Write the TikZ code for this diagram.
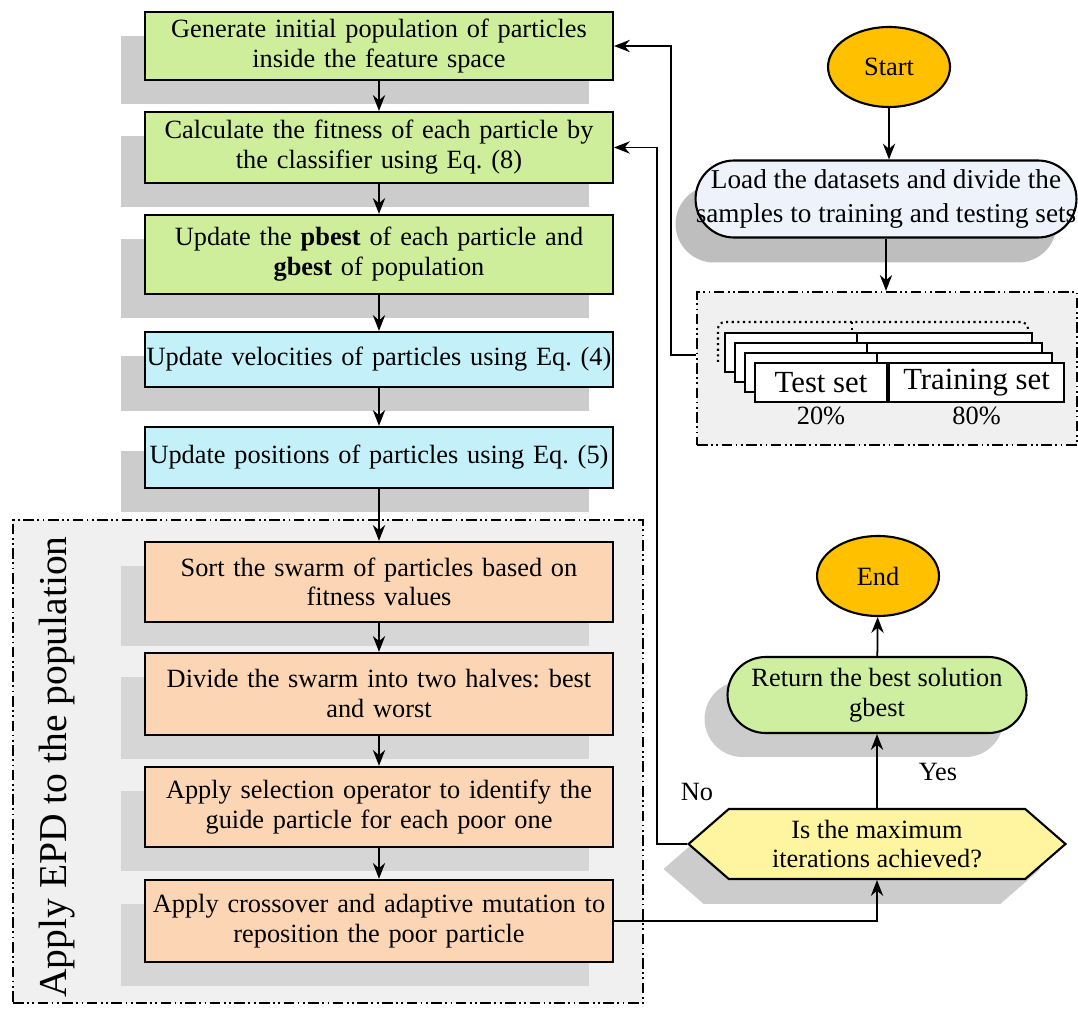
\documentclass[tikz,border=0pt]{standalone}
\usepackage{fontspec}
\setmainfont{Liberation Serif}
\usetikzlibrary{positioning, shapes, shadows, arrows.meta}

\definecolor{stepgreen}{RGB}{206,238,156}
\definecolor{stepblue}{RGB}{196,240,250}
\definecolor{steporange}{RGB}{252,214,180}
\definecolor{termyellow}{RGB}{255,192,0}
\definecolor{loadblue}{RGB}{238,242,250}
\definecolor{retgreen}{RGB}{206,238,160}
\definecolor{decyellow}{RGB}{255,245,160}
\definecolor{groupgray}{RGB}{240,240,240}
\definecolor{shadegray}{RGB}{204,204,204}
\definecolor{shadelight}{RGB}{214,214,214}
\definecolor{shadedark}{RGB}{190,190,190}

\newcommand{\boxfont}{\fontsize{15}{17}\selectfont\frenchspacing}

\begin{document}
\begin{tikzpicture}[x=0.02cm, y=-0.02cm, >={Stealth[length=9pt, width=7pt]},
	stepbox/.style={draw, line width=1.2pt, minimum width=9.36cm, text width=9.32cm,
		align=center, inner sep=0.5pt, font=\boxfont,
		general shadow={fill=shadegray, shadow xshift=-0.48cm, shadow yshift=-0.48cm}},
	epdbox/.style={stepbox, fill=steporange,
		general shadow={fill=shadelight, shadow xshift=-0.48cm, shadow yshift=-0.48cm}},
	term/.style={ellipse, draw, line width=1.2pt, fill=termyellow, minimum width=2.44cm,
		minimum height=1.6cm, font=\boxfont},
	capsule/.style={rectangle, draw, line width=1.2pt, align=center, inner sep=0pt, font=\boxfont},
	decision/.style={signal, signal to=west and east, signal pointer angle=82, draw,
		line width=1.2pt, fill=decyellow, minimum width=7.54cm, minimum height=1.4cm,
		align=center, inner sep=0pt, font=\boxfont,
		general shadow={fill=shadegray, shadow xshift=-0.5cm, shadow yshift=-0.5cm}},
	groupbox/.style={draw, fill=groupgray, line width=1.3pt,
		dash pattern=on 6pt off 2pt on 1pt off 2pt on 1pt off 2pt},
	setbox/.style={draw, fill=white, line width=1.2pt, minimum height=0.78cm, inner sep=0pt,
		font=\fontsize{17.5}{19}\selectfont},
	lbl/.style={font=\boxfont, inner sep=1pt},
	link/.style={line width=1pt}]

	\useasboundingbox (0,0) rectangle (1078,1013);

	%Grupos:
	\node[groupbox, minimum width=12.6cm, minimum height=9.66cm] (epd) at (328,761.5) {};
	\node[rotate=90, font=\fontsize{22.5}{24}\selectfont] (epdlabel) at (57,767) {Apply EPD to the population};
	\node[groupbox, minimum width=7.6cm, minimum height=3.06cm] (data) at (887,368.5) {};

	%PSO:
	\node[stepbox, fill=stepgreen, minimum height=1.36cm] (gen) at (379,46)
		{Generate initial population of particles\\inside the feature space};
	\node[stepbox, fill=stepgreen, minimum height=1.42cm, below of=gen, node distance=2.03cm] (fit)
		{Calculate the fitness of each particle by\\the classifier using Eq. (8)};
	\node[stepbox, fill=stepgreen, minimum height=1.58cm, below of=fit, node distance=2.14cm] (best)
		{Update the \textbf{pbest} of each particle and\\\textbf{gbest} of population};
	\node[stepbox, fill=stepblue, minimum height=1.10cm, below of=best, node distance=2.10cm] (vel)
		{Update velocities of particles using Eq. (4)};
	\node[stepbox, fill=stepblue, minimum height=1.22cm, below of=vel, node distance=1.96cm] (pos)
		{Update positions of particles using Eq. (5)};

	%EPD:
	\node[epdbox, minimum height=1.60cm, below of=pos, node distance=2.49cm] (sort)
		{Sort the swarm of particles based on\\fitness values};
	\node[epdbox, minimum height=1.64cm, below of=sort, node distance=2.24cm] (halves)
		{Divide the swarm into two halves: best\\and worst};
	\node[epdbox, minimum height=1.60cm, below of=halves, node distance=2.26cm] (select)
		{Apply selection operator to identify the\\guide particle for each poor one};
	\node[epdbox, minimum height=1.64cm, below of=select, node distance=2.28cm] (cross)
		{Apply crossover and adaptive mutation to\\reposition the poor particle};

	%Dados:
	\node[term] (start) at (889,67) {Start};
	\node[capsule, fill=loadblue, minimum width=7.62cm, minimum height=1.54cm, rounded corners=0.77cm,
		font=\fontsize{15.5}{19.5}\selectfont,
		general shadow={fill=shadedark, shadow xshift=-0.4cm, shadow yshift=-0.5cm}] (load) at (886,199)
		{Load the datasets and divide the\\samples to training and testing sets};

	\draw[dotted, line width=1.2pt, rounded corners=4pt] (718,362) |- (1028,322) -- (1028,334);
	\draw[dotted, line width=1.2pt] (852,322) -- (852,333);
	\foreach \k in {3,2,1}{
		\draw[fill=white, line width=1.1pt] (755-10*\k,363-10*\k) rectangle (1062-10*\k,402-10*\k);
		\draw[line width=1.1pt] (887-10*\k,363-10*\k) -- (887-10*\k,402-10*\k);
	}
	\node[setbox, minimum width=2.64cm] (test) at (821,382.5) {Test set};
	\node[setbox, minimum width=3.5cm, right=0pt of test] (train) {Training set};
	\node[lbl, below=1pt of test] (ptest) {20\%};
	\node[lbl, below=1pt of train] (ptrain) {80\%};

	%Fim:
	\node[term] (end) at (878,576) {End};
	\node[capsule, fill=retgreen, minimum width=5.98cm, minimum height=1.52cm, rounded corners=0.76cm,
		general shadow={fill=shadegray, shadow xshift=-0.46cm, shadow yshift=-0.48cm}] (ret) at (877,695)
		{Return the best solution\\gbest};
	\node[decision] (check) at (877,844) {Is the maximum\\iterations achieved?};
	\node[lbl] (yes) at (938,772) {Yes};
	\node[lbl] (no) at (697,792) {No};

	%Setas:
	\path[->, link] (gen) edge (fit)
		(fit) edge (best)
		(best) edge (vel)
		(vel) edge (pos)
		(pos) edge (sort)
		(sort) edge (halves)
		(halves) edge (select)
		(select) edge (cross)
		(start) edge (start |- load.north)
		(load) edge (load.south |- data.north)
		(check) edge (ret)
		(ret) edge (end);
	\draw[->, link] (cross.east) -| (check.south);
	\draw[->, link] (check.west) -- ++(-0.6cm,0) |- (fit.east);
	\draw[->, link] ([yshift=0.27cm]data.west) -- ++(-0.5cm,0) |- (gen.east);
\end{tikzpicture}
\end{document}
